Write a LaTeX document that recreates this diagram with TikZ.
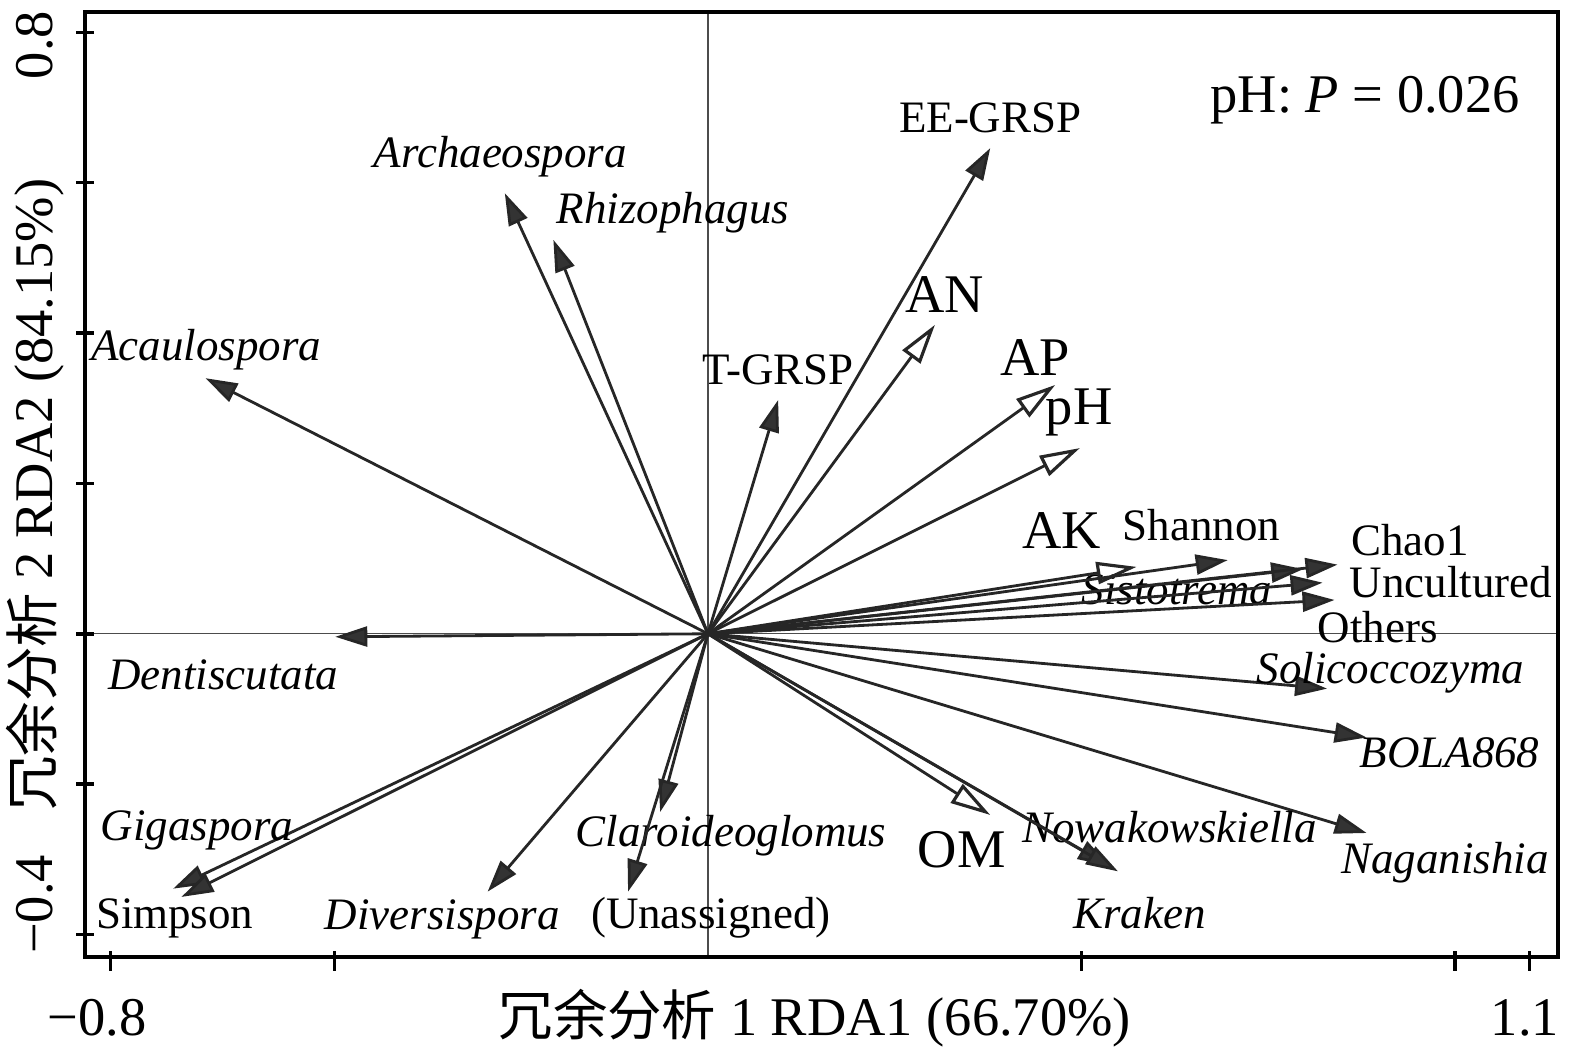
\documentclass[tikz,border=0pt]{standalone}
\usepackage{fontspec}
\setmainfont{Liberation Serif}
\newfontfamily\cjk{Noto Sans CJK SC}
\usetikzlibrary{arrows.meta}

\tikzset{
    sp/.style={draw=black!85, line width=0.8pt, -{Triangle[length=0.32cm, width=0.2cm, fill=black!80]}},
    env/.style={draw=black!85, line width=0.8pt, -{Triangle[open, length=0.4cm, width=0.22cm, line width=0.9pt]}},
    gen/.style={inner sep=0pt, font=\fontsize{12.8}{14}\selectfont\itshape},
    idx/.style={inner sep=0pt, font=\fontsize{12.8}{14}\selectfont},
    big/.style={inner sep=0pt, font=\fontsize{15.5}{18}\selectfont},
}

\begin{document}
\begin{tikzpicture}[x=7.47cm, y=7.52cm]
    \useasboundingbox (-0.948, -0.561) rectangle (1.161, 0.843);
    % zero lines and frame
    \draw[black!70, line width=0.4pt] (-0.834, 0) -- (1.138, 0);
    \draw[black!70, line width=0.4pt] (0, -0.4295) -- (0, 0.827);
    \draw[line width=1.1pt] (-0.834, -0.4295) rectangle (1.138, 0.827);
    \foreach \j in {-0.4, -0.2, 0, 0.2, 0.4, 0.6, 0.8} {
        \draw[line width=1pt] (-0.846, \j) -- (-0.822, \j);
    }
    \foreach \i in {-0.8, -0.5, 0.5, 1, 1.1} {
        \draw[line width=1pt] (\i, -0.422) -- (\i, -0.448);
    }
    \node[big] (xmin) at (-0.818, -0.511) {−0.8};
    \node[big] (xmax) at (1.094, -0.511) {1.1};
    \node[big] (xlab) at (0.143, -0.511) {{\cjk 冗余分析} 1 RDA1 (66.70\%)};
    \node[big, rotate=90] (ymax) at (-0.901, 0.783) {0.8};
    \node[big, rotate=90] (ymin) at (-0.901, -0.360) {−0.4};
    \node[big, rotate=90] (ylab) at (-0.901, 0.185) {{\cjk 冗余分析} 2 RDA2 (84.15\%)};
    \node[big] (ptest) at (0.880, 0.710) {pH: \textit{P} = 0.026};

    \coordinate (O) at (0, 0);
    % genera
    \foreach \n/\x/\y/\lx/\ly/\t in {
        acau/-0.673/0.340/-0.672/0.378/Acaulospora,
        arch/-0.272/0.586/-0.278/0.634/Archaeospora,
        rhiz/-0.207/0.524/-0.047/0.560/Rhizophagus,
        sist/0.797/0.086/0.628/0.059/Sistotrema,
        soli/0.829/-0.073/0.914/-0.052/Solicoccozyma,
        bola/0.882/-0.138/0.993/-0.158/BOLA868,
        naga/0.882/-0.265/0.987/-0.305/Naganishia,
        nowa/0.538/-0.309/0.618/-0.257/Nowakowskiella,
        krak/0.549/-0.316/0.578/-0.371/Kraken,
        clar/-0.064/-0.237/0.031/-0.269/Claroideoglomus,
        dive/-0.295/-0.343/-0.356/-0.380/Diversispora,
        giga/-0.716/-0.339/-0.684/-0.261/Gigaspora,
        dent/-0.499/-0.004/-0.649/-0.055/Dentiscutata
    } {
        \coordinate (\n) at (\x, \y);
        \draw[sp] (O) -- (\n);
        \node[gen] (l\n) at (\lx, \ly) {\t};
    }
    % indices and other groups
    \foreach \n/\x/\y/\lx/\ly/\t in {
        tgrsp/0.094/0.311/0.094/0.351/T-GRSP,
        eegrsp/0.378/0.646/0.378/0.686/EE-GRSP,
        shan/0.696/0.098/0.661/0.145/Shannon,
        chao/0.843/0.092/0.940/0.124/Chao1,
        uncu/0.823/0.068/0.995/0.069/Uncultured,
        othe/0.839/0.045/0.897/0.009/Others,
        unas/-0.107/-0.343/0.004/-0.378/(Unassigned),
        simp/-0.705/-0.350/-0.714/-0.378/Simpson
    } {
        \coordinate (\n) at (\x, \y);
        \draw[sp] (O) -- (\n);
        \node[idx] (l\n) at (\lx, \ly) {\t};
    }
    % soil properties
    \foreach \n/\x/\y/\lx/\ly in {
        AN/0.304/0.411/0.317/0.451,
        AP/0.465/0.331/0.438/0.368,
        pH/0.498/0.247/0.497/0.294,
        AK/0.574/0.089/0.474/0.138,
        OM/0.378/-0.241/0.340/-0.287
    } {
        \coordinate (\n) at (\x, \y);
        \draw[env] (O) -- (\n);
        \node[big] (l\n) at (\lx, \ly) {\n};
    }
\end{tikzpicture}
\end{document}
